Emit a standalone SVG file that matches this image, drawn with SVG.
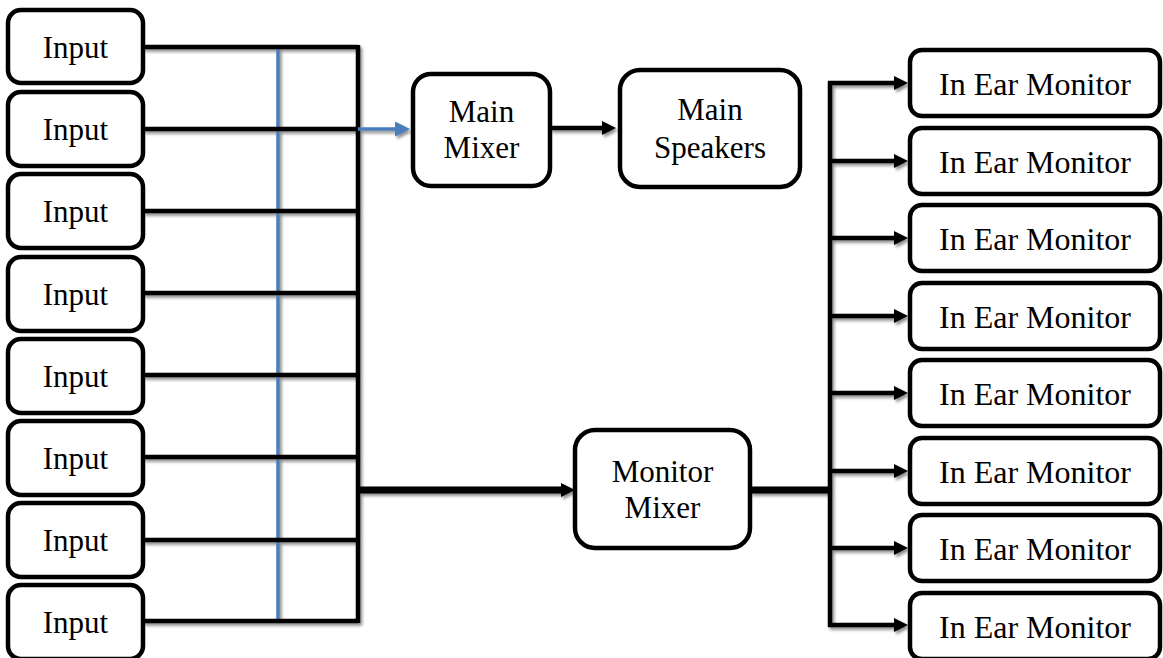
<svg xmlns="http://www.w3.org/2000/svg" width="1163" height="658" viewBox="0 0 1163 658">
<style>
.box{fill:#fff;stroke:#000;stroke-width:4.5}
.t{font-size:31px}
.ti{font-size:32px}
.c{fill:none;stroke:#000;stroke-width:4.5}
.thick{stroke-width:7}
.blue{stroke:#4a7ebb;stroke-width:3.5;fill:none}
</style>
<defs>
<filter id="sh" x="-5%" y="-5%" width="110%" height="110%">
<feDropShadow dx="2" dy="2.5" stdDeviation="1.6" flood-color="#000" flood-opacity="0.45"/>
</filter>
<marker id="ah" markerUnits="userSpaceOnUse" markerWidth="16" markerHeight="16" refX="4" refY="7" orient="auto">
<path d="M0,0 L14,7 L0,14 z" fill="#000"/>
</marker>
<marker id="ahb" markerUnits="userSpaceOnUse" markerWidth="16" markerHeight="16" refX="4" refY="7.5" orient="auto">
<path d="M0,0 L15,7.5 L0,15 z" fill="#4a7ebb"/>
</marker>
</defs>
<g id="connectors" filter="url(#sh)">
<path class="blue" d="M278,47 V620"/>
<path class="c" d="M143,47 H358 M143,211 H358 M143,293 H358 M143,375 H358 M143,457 H358 M143,540 H358 M143,621 H358"/>
<path class="c" stroke-width="5.5" d="M143,129 H358"/>
<path class="c" stroke-width="5" d="M358,45 V623"/>
<path class="blue" stroke-width="4" d="M358,129 H399" marker-end="url(#ahb)"/>
<path class="c thick" d="M358,490 H565" marker-end="url(#ah)"/>
<path class="c" stroke-width="3" d="M550,128 H606" marker-end="url(#ah)"/>
<path class="c thick" d="M750,490 H832"/>
<path class="c" stroke-width="5" d="M830,81 V627"/>
<path class="c" d="M828,83 H898" marker-end="url(#ah)"/>
<path class="c" d="M828,161 H898" marker-end="url(#ah)"/>
<path class="c" d="M828,238 H898" marker-end="url(#ah)"/>
<path class="c" d="M828,316 H898" marker-end="url(#ah)"/>
<path class="c" d="M828,393 H898" marker-end="url(#ah)"/>
<path class="c" d="M828,471 H898" marker-end="url(#ah)"/>
<path class="c" d="M828,548 H898" marker-end="url(#ah)"/>
<path class="c" d="M828,625 H898" marker-end="url(#ah)"/>
</g>
<g font-family="Liberation Serif, serif" text-anchor="middle" fill="#000">
<g id="in1"><rect class="box" x="8" y="10" width="135" height="73" rx="13"/><text class="t" x="75.5" y="58">Input</text></g>
<g id="in2"><rect class="box" x="8" y="92" width="135" height="74" rx="13"/><text class="t" x="75.5" y="140">Input</text></g>
<g id="in3"><rect class="box" x="8" y="174" width="135" height="74" rx="13"/><text class="t" x="75.5" y="222">Input</text></g>
<g id="in4"><rect class="box" x="8" y="257" width="135" height="74" rx="13"/><text class="t" x="75.5" y="305">Input</text></g>
<g id="in5"><rect class="box" x="8" y="339" width="135" height="74" rx="13"/><text class="t" x="75.5" y="387">Input</text></g>
<g id="in6"><rect class="box" x="8" y="421" width="135" height="74" rx="13"/><text class="t" x="75.5" y="469">Input</text></g>
<g id="in7"><rect class="box" x="8" y="503" width="135" height="74" rx="13"/><text class="t" x="75.5" y="551">Input</text></g>
<g id="in8"><rect class="box" x="8" y="585" width="135" height="74" rx="13"/><text class="t" x="75.5" y="633">Input</text></g>
<g id="mainMixer"><rect class="box" x="413" y="74" width="137" height="112" rx="18"/><text class="t" x="481.5" y="122">Main</text><text class="t" x="481.5" y="158">Mixer</text></g>
<g id="mainSpeakers"><rect class="box" x="620" y="70" width="180" height="117" rx="20"/><text class="t" x="710" y="120">Main</text><text class="t" x="710" y="158">Speakers</text></g>
<g id="monitorMixer"><rect class="box" x="575" y="430" width="175" height="118" rx="20"/><text class="t" x="662.5" y="482">Monitor</text><text class="t" x="662.5" y="518">Mixer</text></g>
<g id="iem1"><rect class="box" x="910" y="50" width="250" height="66" rx="12"/><text class="ti" x="1035" y="95">In Ear Monitor</text></g>
<g id="iem2"><rect class="box" x="910" y="128" width="250" height="66" rx="12"/><text class="ti" x="1035" y="173">In Ear Monitor</text></g>
<g id="iem3"><rect class="box" x="910" y="205" width="250" height="66" rx="12"/><text class="ti" x="1035" y="250">In Ear Monitor</text></g>
<g id="iem4"><rect class="box" x="910" y="283" width="250" height="66" rx="12"/><text class="ti" x="1035" y="328">In Ear Monitor</text></g>
<g id="iem5"><rect class="box" x="910" y="360" width="250" height="66" rx="12"/><text class="ti" x="1035" y="405">In Ear Monitor</text></g>
<g id="iem6"><rect class="box" x="910" y="438" width="250" height="66" rx="12"/><text class="ti" x="1035" y="483">In Ear Monitor</text></g>
<g id="iem7"><rect class="box" x="910" y="515" width="250" height="66" rx="12"/><text class="ti" x="1035" y="560">In Ear Monitor</text></g>
<g id="iem8"><rect class="box" x="910" y="593" width="250" height="66" rx="12"/><text class="ti" x="1035" y="638">In Ear Monitor</text></g>
</g>
</svg>
